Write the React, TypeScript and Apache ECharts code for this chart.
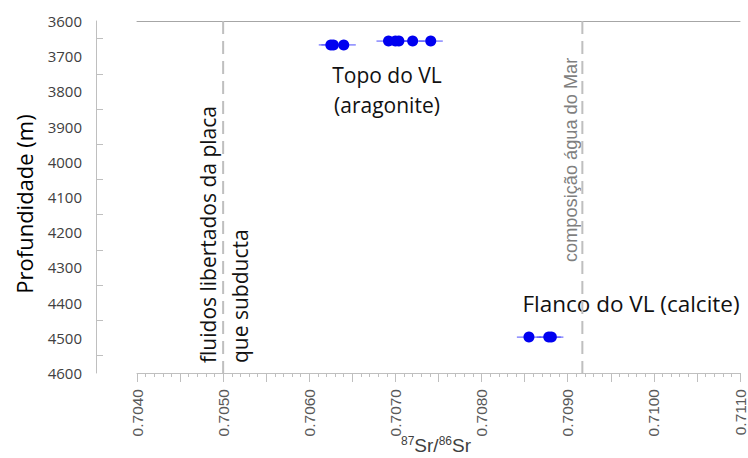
import React, { useEffect, useRef } from "react";
import * as echarts from "echarts";

// ---- data ----
const sampleRatio = [0.70625, 0.70628, 0.7064, 0.70692, 0.707, 0.70704, 0.7072, 0.70741, 0.70855, 0.70878, 0.70881];
const sampleDepth = [3668, 3668, 3668, 3657, 3657, 3657, 3657, 3657, 4498, 4498, 4498];
const sampleError = [0.00014, 0.00014, 0.00014, 0.00014, 0.00014, 0.00014, 0.00014, 0.00014, 0.00014, 0.00014, 0.00014];
const referenceRatios = [0.705, 0.70917];
const referenceDepthSpan = [3600, 4600];
const xLabelValues = [0.704, 0.705, 0.706, 0.707, 0.708, 0.709, 0.71, 0.711];
const yLabelValues = [3600, 3700, 3800, 3900, 4000, 4100, 4200, 4300, 4400, 4500, 4600];
const yTickValues = [3650, 3750, 3850, 3950, 4050, 4150, 4250, 4350, 4450, 4550];

const App = () => {
  const ref = useRef<HTMLDivElement>(null);
  useEffect(() => {
    if (!ref.current) return;
    const chart = echarts.init(ref.current, null, { renderer: "svg" });
    const points = sampleRatio.map((x, i) => [x, sampleDepth[i]]);
    const bars = sampleRatio.map((x, i) => [x - sampleError[i], x + sampleError[i], sampleDepth[i]]);
    const sans = "Open Sans";
    const arial = "Liberation Sans";
    const refSeries = referenceRatios.map((v) => ({
      type: "line",
      data: referenceDepthSpan.map((d) => [v, d]),
      symbol: "none",
      silent: true,
      z: 0,
      lineStyle: { type: [13, 7], color: "#bfbfbf", width: 2 },
    }));
    chart.setOption({
      animation: false,
      grid: { left: 137, right: 8, top: 21, bottom: 85, containLabel: false, outerBoundsMode: "none" },
      xAxis: [
        {
          type: "value",
          min: 0.704,
          max: 0.711,
          interval: 0.0005,
          position: "bottom",
          axisLine: { show: true, lineStyle: { color: "#bfbfbf", width: 1 } },
          axisTick: { show: true, length: 9, lineStyle: { color: "#bfbfbf" } },
          minorTick: { show: true, splitNumber: 5, length: 4, lineStyle: { color: "#bfbfbf" } },
          splitLine: { show: false },
          axisLabel: {
            customValues: xLabelValues,
            rotate: 90,
            margin: 16,
            color: "#595959",
            fontFamily: arial,
            fontSize: 15.5,
            formatter: (v: number) => v.toFixed(4),
          },
        },
        {
          type: "value",
          min: 0.704,
          max: 0.711,
          position: "top",
          axisLine: { show: true, lineStyle: { color: "#a6a6a6", width: 1 } },
          axisTick: { show: false },
          axisLabel: { show: false },
          splitLine: { show: false },
        },
      ],
      yAxis: {
        type: "value",
        inverse: true,
        min: 3600,
        max: 4600,
        interval: 50,
        offset: 41,
        axisLine: { show: true, lineStyle: { color: "#bfbfbf", width: 1 } },
        axisTick: { show: true, inside: true, length: 7, customValues: yTickValues, lineStyle: { color: "#bfbfbf" } },
        splitLine: { show: false },
        axisLabel: {
          customValues: yLabelValues,
          margin: 14,
          color: "#404040",
          fontFamily: sans,
          fontSize: 15,
          formatter: (v: number) => String(v),
        },
      },
      series: [
        ...refSeries,
        {
          type: "custom",
          xAxisIndex: 0,
          yAxisIndex: 0,
          data: bars,
          encode: { x: [0, 1], y: 2 },
          z: 1,
          renderItem: (params: any, api: any) => {
            const a = api.coord([api.value(0), api.value(2)]);
            const b = api.coord([api.value(1), api.value(2)]);
            return {
              type: "line",
              shape: { x1: a[0], y1: a[1], x2: b[0], y2: b[1] },
              style: { stroke: "#4d4dff", lineWidth: 1 },
            };
          },
        },
        {
          type: "scatter",
          data: points,
          symbol: "circle",
          symbolSize: 11,
          z: 3,
          itemStyle: { color: "#0000f0", opacity: 1 },
        },
      ],
      graphic: [
        {
          type: "text",
          x: 436,
          y: 445,
          style: {
            text: "{sup|87}{main|Sr/}{sup|86}{main|Sr}",
            align: "center",
            verticalAlign: "middle",
            rich: {
              main: { fontFamily: arial, fontSize: 19, lineHeight: 20, fill: "#404040", color: "#404040" },
              sup: { fontFamily: arial, fontSize: 12, lineHeight: 12, fill: "#404040", color: "#404040", verticalAlign: "top" },
            },
          },
        },
        {
          type: "text",
          x: 24,
          y: 204,
          rotation: Math.PI / 2,
          style: {
            text: "Profundidade (m)",
            fontFamily: sans,
            fontSize: 22,
            fill: "#000",
            align: "center",
            verticalAlign: "middle",
          },
        },
        {
          type: "text",
          x: 387,
          y: 90,
          style: {
            text: "Topo do VL\n(aragonite)",
            fontFamily: sans,
            fontSize: 21,
            lineHeight: 30,
            fill: "#111",
            align: "center",
            verticalAlign: "middle",
          },
        },
        {
          type: "text",
          x: 631,
          y: 303,
          style: {
            text: "Flanco do VL (calcite)",
            fontFamily: sans,
            fontSize: 22.5,
            fill: "#111",
            align: "center",
            verticalAlign: "middle",
          },
        },
        {
          type: "text",
          x: 224,
          y: 363,
          rotation: Math.PI / 2,
          style: {
            text: "fluidos libertados da placa\nque subducta",
            fontFamily: sans,
            fontSize: 21,
            lineHeight: 32,
            fill: "#111",
            align: "left",
            verticalAlign: "middle",
          },
        },
        {
          type: "text",
          x: 571,
          y: 262,
          rotation: Math.PI / 2,
          style: {
            text: "composição água do Mar",
            fontFamily: arial,
            fontSize: 18.2,
            fill: "#7f7f7f",
            align: "left",
            verticalAlign: "middle",
          },
        },
      ],
    });
    return () => chart.dispose();
  }, []);
  return (
    <div
      ref={ref}
      style={{ position: "fixed", left: 0, top: 0, width: 748, height: 458, background: "#fff" }}
    />
  );
};

export default App;
